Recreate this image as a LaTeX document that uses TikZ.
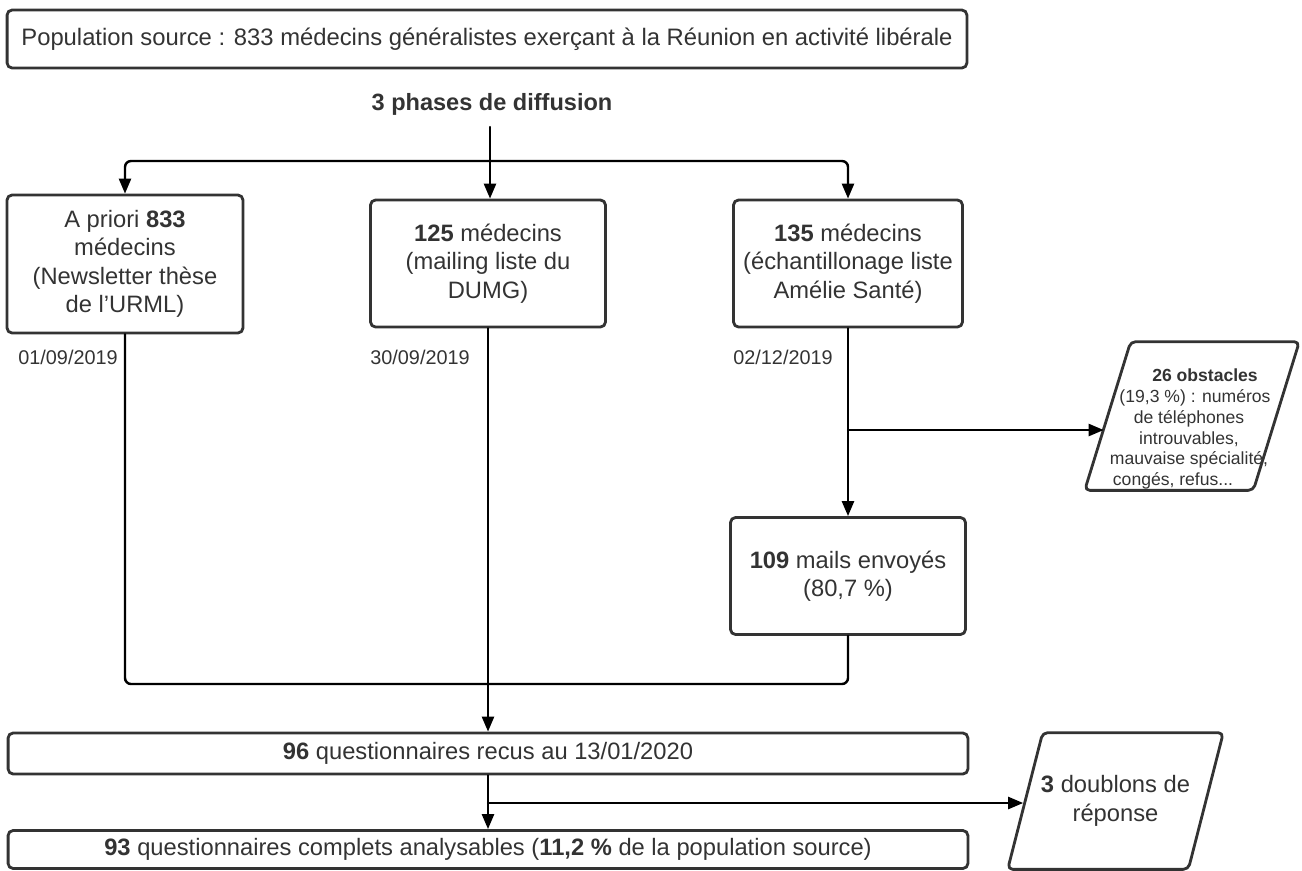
\documentclass[tikz,border=0pt]{standalone}
\usepackage{fontspec}
\setmainfont{Liberation Sans}
\usetikzlibrary{arrows.meta}
\definecolor{txtgray}{HTML}{333333}

\begin{document}
\begin{tikzpicture}[x=0.02cm, y=-0.02cm, line cap=round, line join=round,
    >={Triangle[length=0.3cm, width=0.24cm]},
    frame/.style={draw=txtgray, line width=1.6pt, rounded corners=0.1cm},
    box/.style={frame, text=txtgray, align=center, inner sep=0pt,
        font=\fontsize{13.5}{16.2}\selectfont},
    slanttext/.style={text=txtgray, align=center, inner sep=0pt,
        font=\fontsize{13.5}{16.2}\selectfont},
    date/.style={text=txtgray, anchor=west, inner sep=0pt, font=\fontsize{11.3}{13}\selectfont},
    link/.style={line width=1.4pt, draw=black}]

    % Frame
    \useasboundingbox (0,0) rectangle (1302,870);

    % Source
    \node[box, minimum width=19.2cm, minimum height=1.16cm, font=\fontsize{13.55}{16}\selectfont]
        (pop) at (487,39) {Population source : 833 médecins généralistes exerçant à la Réunion en activité libérale};
    \node[text=txtgray, font=\bfseries\fontsize{13.4}{15}\selectfont] (phases) at (492,104) {3 phases de diffusion};

    % Three phases
    \node[box, minimum width=4.72cm, minimum height=2.76cm] (med1) at (125,264)
        {A priori {\bfseries 833}\\médecins\\(Newsletter thèse\\de l'URML)};
    \node[box, minimum width=4.7cm, minimum height=2.54cm] (med2) at (488,263.5)
        {{\bfseries 125} médecins\\(mailing liste du\\DUMG)};
    \node[box, minimum width=4.58cm, minimum height=2.54cm] (med3) at (848,263.5)
        {{\bfseries 135} médecins\\(échantillonage liste\\Amélie Santé)};
    \node[date] (date1) at (18,357) {01/09/2019};
    \node[date] (date2) at (370,357) {30/09/2019};
    \node[date] (date3) at (733,357) {02/12/2019};

    % Phoning
    \node[minimum width=3.36cm, minimum height=2.96cm, inner sep=0pt] (obst) at (1192,416) {};
    \draw[frame] ([xshift=0.46cm]obst.north west) -- ([xshift=0.46cm]obst.north east)
        -- ([xshift=-0.46cm]obst.south east) -- ([xshift=-0.46cm]obst.south west) -- cycle;
    \node[slanttext, font=\fontsize{10}{11.9}\selectfont] (obsttxt) at ([xshift=-0.06cm, yshift=-0.26cm]obst.center)
        {\hspace*{0.64cm}{\bfseries 26 obstacles}\\\hspace*{0.24cm}(19,3 \%) : numéros\\de téléphones\\
        introuvables,\hspace*{0.08cm}\\mauvaise spécialité,\hspace*{0.24cm}\\congés, refus...\hspace*{0.64cm}};
    \node[box, minimum width=4.7cm, minimum height=2.34cm] (mails) at (848,576)
        {{\bfseries 109} mails envoyés\\(80,7 \%)};

    % Answers
    \node[box, minimum width=19.2cm, minimum height=0.82cm] (recus) at (488,753.5)
        {{\bfseries 96} questionnaires recus au 13/01/2020};
    \node[box, minimum width=19.2cm, minimum height=0.76cm] (complets) at (488,849.5)
        {{\bfseries 93} questionnaires complets analysables ({\bfseries 11,2 \%} de la population source)};
    \node[slanttext, minimum width=3.6cm, minimum height=2.72cm] (doublons) at (1115.5,801)
        {{\bfseries 3} doublons de\\réponse};
    \draw[frame] ([xshift=0.35cm]doublons.north west) -- ([xshift=0.35cm]doublons.north east)
        -- ([xshift=-0.35cm]doublons.south east) -- ([xshift=-0.35cm]doublons.south west) -- cycle;

    % Connectors
    \coordinate (split) at (490,161);
    \coordinate (join) at (488,684);
    \coordinate (br1) at (848,430);
    \coordinate (br2) at (488,803);

    \draw[link] (split |- 0,127) -- (split);
    \draw[link, ->, rounded corners=0.12cm] (split) -| (med1);
    \draw[link, ->] (split) -- (split |- med2.north);
    \draw[link, ->, rounded corners=0.12cm] (split) -| (med3);
    \draw[link, rounded corners=0.12cm] (med1) |- (join);
    \draw[link, rounded corners=0.12cm] (mails) |- (join);
    \draw[link, ->] (med2) -- (recus);
    \draw[link, ->] (med3) -- (mails);
    \draw[link, ->] (br1) -- ([xshift=-0.08cm]br1 -| obst.west);
    \draw[link, ->] (recus) -- (complets);
    \draw[link, ->] (br2) -- ([xshift=-0.04cm]br2 -| doublons.west);

\end{tikzpicture}
\end{document}
